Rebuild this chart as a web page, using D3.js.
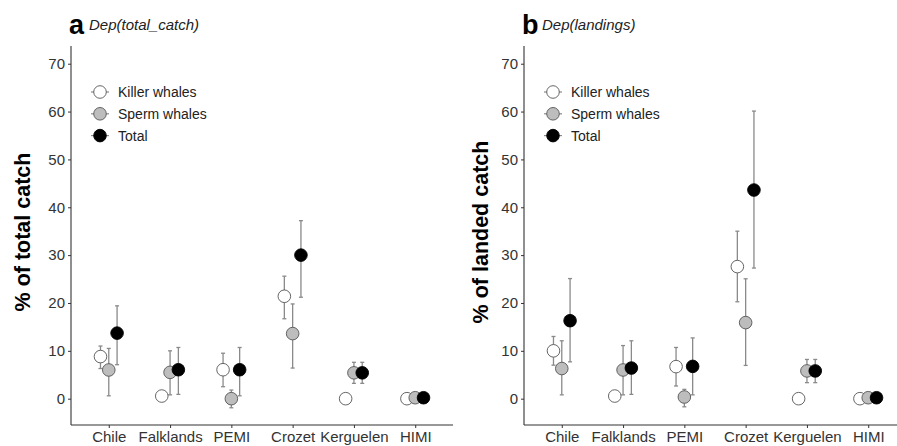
<!DOCTYPE html>
<html>
<head>
<meta charset="utf-8">
<script src="https://cdn.jsdelivr.net/npm/d3@7"></script>
<style>
  body { margin: 0; background: #fff; }
  svg { font-family: "Liberation Sans", Arial, sans-serif; }
</style>
</head>
<body>
<svg id="chart" width="897" height="446"></svg>
<script>
// categories and series
const regions = ["Chile", "Falklands", "PEMI", "Crozet", "Kerguelen", "HIMI"];
const groups = ["Killer whales", "Sperm whales", "Total"];
const yTicks = [0, 10, 20, 30, 40, 50, 60, 70];

// panel a: Dep(total_catch), mean and error bounds (null = no bar)
const catchKiller = [8.8, 0.55, 6.05, 21.4, 0.0, 0.0];
const catchKillerLo = [6.3, null, 2.5, 16.7, null, null];
const catchKillerHi = [11.0, null, 9.5, 25.6, null, null];
const catchSperm = [6.0, 5.5, 0.0, 13.6, 5.4, 0.2];
const catchSpermLo = [0.6, 0.8, -1.9, 6.4, 3.2, null];
const catchSpermHi = [10.5, 10.0, 1.8, 19.8, 7.6, null];
const catchTotal = [13.7, 6.05, 6.05, 30.0, 5.4, 0.2];
const catchTotalLo = [7.1, 0.9, 0.6, 21.2, 3.2, null];
const catchTotalHi = [19.4, 10.7, 10.7, 37.2, 7.6, null];

// panel b: Dep(landings)
const landKiller = [10.0, 0.55, 6.7, 27.6, 0.0, 0.0];
const landKillerLo = [7.0, null, 2.65, 20.25, null, null];
const landKillerHi = [13.0, null, 10.7, 35.0, null, null];
const landSperm = [6.3, 6.0, 0.35, 15.9, 5.8, 0.2];
const landSpermLo = [0.8, 0.8, -1.7, 6.95, 3.35, null];
const landSpermHi = [12.1, 11.1, 1.95, 25.05, 8.2, null];
const landTotal = [16.3, 6.4, 6.75, 43.6, 5.8, 0.2];
const landTotalLo = [7.7, 0.9, 0.8, 27.3, 3.35, null];
const landTotalHi = [25.1, 12.1, 12.7, 60.1, 8.2, null];

const fills = {"Killer whales": "#ffffff", "Sperm whales": "#bdbdbd", "Total": "#000000"};

function buildRows(mean, lo, hi, group) {
    return regions.map((r, i) => ({region: r, group, y: mean[i], lo: lo[i], hi: hi[i]}));
}

const panels = [
    {
        letter: "a", title: "Dep(total_catch)", ylab: "% of total catch", left: 71, titleX: 30,
        rows: [].concat(
            buildRows(catchKiller, catchKillerLo, catchKillerHi, groups[0]),
            buildRows(catchSperm, catchSpermLo, catchSpermHi, groups[1]),
            buildRows(catchTotal, catchTotalLo, catchTotalHi, groups[2]))
    },
    {
        letter: "b", title: "Dep(landings)", ylab: "% of landed catch", left: 524, titleX: 488,
        rows: [].concat(
            buildRows(landKiller, landKillerLo, landKillerHi, groups[0]),
            buildRows(landSperm, landSpermLo, landSpermHi, groups[1]),
            buildRows(landTotal, landTotalLo, landTotalHi, groups[2]))
    }
];

const svg = d3.select("#chart");
const plotTop = 46, plotBottom = 425, plotW = 380;

const y = d3.scaleLinear().domain([-5.5, 73.7]).range([plotBottom, plotTop]);
const dodge = d3.scalePoint().domain(groups).range([-8.3, 8.3]);

panels.forEach(p => {
    const x = d3.scalePoint().domain(regions).range([p.left + 1, p.left + 1 + plotW]).padding(0.6);
    const g = svg.append("g");

    // axes
    const yAxis = g.append("g")
        .attr("transform", `translate(${p.left},0)`)
        .call(d3.axisLeft(y).tickValues(yTicks).tickSize(3).tickPadding(3));
    yAxis.select(".domain").attr("d", `M0,${plotTop}V${plotBottom}`);

    const xAxis = g.append("g")
        .attr("transform", `translate(0,${plotBottom})`)
        .call(d3.axisBottom(x).tickSize(3).tickPadding(3));
    xAxis.select(".domain").attr("d", `M${p.left},0H${p.left + plotW + 2}`);

    g.selectAll(".domain").attr("stroke", "#333").attr("stroke-width", 1.1);
    g.selectAll(".tick line").attr("stroke", "#333");
    g.selectAll(".tick text").attr("fill", "#333").attr("font-size", 15);

    // error bars
    const bars = p.rows.filter(d => d.lo !== null);
    const cx = d => x(d.region) + dodge(d.group);
    g.append("g").selectAll("g")
        .data(bars)
        .join("g")
        .attr("stroke", "#8a8a8a")
        .attr("stroke-width", 1.3)
        .call(s => s.append("line")
            .attr("x1", cx).attr("x2", cx)
            .attr("y1", d => y(d.lo)).attr("y2", d => y(d.hi)))
        .call(s => s.append("line")
            .attr("x1", d => cx(d) - 2).attr("x2", d => cx(d) + 2)
            .attr("y1", d => y(d.hi)).attr("y2", d => y(d.hi)))
        .call(s => s.append("line")
            .attr("x1", d => cx(d) - 2).attr("x2", d => cx(d) + 2)
            .attr("y1", d => y(d.lo)).attr("y2", d => y(d.lo)));

    // points
    g.append("g").selectAll("circle")
        .data(p.rows)
        .join("circle")
        .attr("cx", cx)
        .attr("cy", d => y(d.y))
        .attr("r", 6.3)
        .attr("fill", d => fills[d.group])
        .attr("stroke", d => d.group === "Total" ? "#000" : "#555")
        .attr("stroke-width", 0.9);

    // legend
    const leg = g.append("g").attr("transform", `translate(${p.left + 29},92)`);
    const item = leg.selectAll("g")
        .data(groups)
        .join("g")
        .attr("transform", (d, i) => `translate(0,${i * 21.8})`);
    item.append("line")
        .attr("x1", -9).attr("x2", 9)
        .attr("stroke", "#8a8a8a").attr("stroke-width", 1.2);
    item.append("circle")
        .attr("r", 6.3)
        .attr("fill", d => fills[d])
        .attr("stroke", d => d === "Total" ? "#000" : "#555")
        .attr("stroke-width", 0.9);
    item.append("text")
        .attr("x", 18).attr("dy", "0.35em")
        .attr("font-size", 14).attr("fill", "#222")
        .text(d => d);

    // y axis title
    g.append("text")
        .attr("transform", `translate(${p.titleX},232) rotate(-90)`)
        .attr("text-anchor", "middle")
        .attr("font-size", 21.5).attr("font-weight", "bold")
        .text(p.ylab);

    // panel label and title
    g.append("text")
        .attr("x", p.left - 2).attr("y", 34)
        .attr("font-size", 27).attr("font-weight", "bold")
        .text(p.letter);
    g.append("text")
        .attr("x", p.left + 18).attr("y", 30)
        .attr("font-size", 15).attr("font-style", "italic").attr("fill", "#222")
        .text(p.title);
});
</script>
</body>
</html>
